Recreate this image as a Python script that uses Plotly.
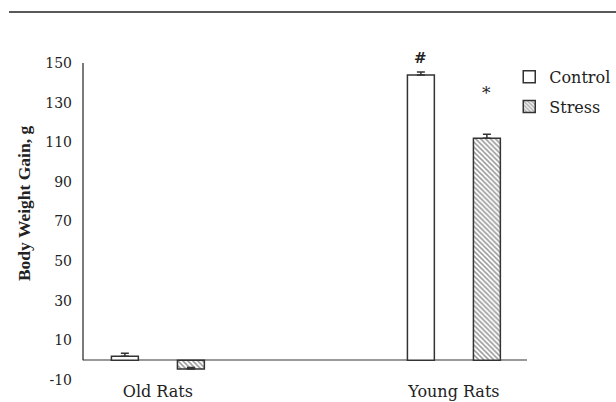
import plotly.graph_objects as go

categories = ["Old Rats", "Young Rats"]
control = [2.0, 144.0]
control_err = [1.5, 1.5]
stress = [-4.5, 112.0]
stress_err = [0.8, 2.0]
y_ticks = [-10, 10, 30, 50, 70, 90, 110, 130, 150]
y_ticktext = ["-10", "10", "30", "50", "70", "90", "110", "130", "150"]
marks_text = ["#", "*"]
y_title = "Body Weight Gain, g"

FONT = "DejaVu Serif"
TFONT = "Liberation Serif"
EDGE = "#333333"
TXT = "#222222"

fig = go.Figure()
fig.add_trace(go.Bar(
    x=categories, y=control, name="Control", legendgroup="a",
    width=0.091, offset=-0.157,
    marker=dict(color="white", line=dict(color=EDGE, width=1.5)),
    error_y=dict(type="data", array=control_err, symmetric=False, arrayminus=[0, 0],
                 color=EDGE, thickness=1.5, width=4),
))
fig.add_trace(go.Bar(
    x=categories, y=stress, name="Stress", legendgroup="b",
    width=0.091, offset=0.066,
    marker=dict(color="white", line=dict(color=EDGE, width=1.5),
                pattern=dict(shape="\\", fgcolor="#3a3a3a", bgcolor="white", size=3.5, solidity=0.45)),
    error_y=dict(type="data", array=stress_err, symmetric=False, arrayminus=[0, 0],
                 color=EDGE, thickness=1.5, width=4),
))

# significance marks
fig.add_annotation(x=categories[1], y=control[1] + control_err[1], text="<b>" + marks_text[0] + "</b>",
                   xshift=-33, yshift=14, showarrow=False,
                   font=dict(family=FONT, size=15, color=TXT))
fig.add_annotation(x=categories[1], y=stress[1] + stress_err[1], text=marks_text[1],
                   xshift=33, yshift=41, showarrow=False,
                   font=dict(family=FONT, size=17, color=TXT))

# y-axis title (placed as annotation)
fig.add_annotation(xref="paper", yref="paper", x=-0.133, y=0.558, xanchor="center", yanchor="middle",
                   text="<b>" + y_title + "</b>",
                   textangle=-90, showarrow=False,
                   font=dict(family=TFONT, size=17.5, color=TXT))

# y-axis line from 0 to 150
fig.add_shape(type="line", xref="paper", yref="y", x0=0, x1=0, y0=0, y1=151,
              line=dict(color=TXT, width=1.2))
# top rule
fig.add_shape(type="line", xref="paper", yref="paper", x0=-0.1667, x1=1.2005, y0=1.161, y1=1.161,
              line=dict(color=TXT, width=1.5))

fig.update_layout(
    width=616, height=402,
    margin=dict(l=83, r=89, t=63, b=22, autoexpand=False),
    plot_bgcolor="white", paper_bgcolor="white",
    barmode="overlay",
    font=dict(family=FONT, color=TXT),
    showlegend=True,
    legend=dict(x=0.96, y=1.01, xanchor="left", yanchor="top",
                font=dict(family=FONT, size=16, color=TXT),
                itemwidth=30, tracegroupgap=6, bgcolor="rgba(0,0,0,0)"),
    xaxis=dict(type="category", range=[-0.253, 1.247], showline=False, showgrid=False,
               automargin=False, ticks="", tickfont=dict(family=FONT, size=16, color=TXT)),
    yaxis=dict(range=[-10, 150], tickvals=y_ticks, ticktext=y_ticktext, showgrid=False, showline=False,
               automargin=False, ticklabelstandoff=10,
               zeroline=True, zerolinecolor="#999999", zerolinewidth=1.5,
               ticks="", tickfont=dict(family=FONT, size=14, color=TXT)),
)

fig.write_html("out.html")
